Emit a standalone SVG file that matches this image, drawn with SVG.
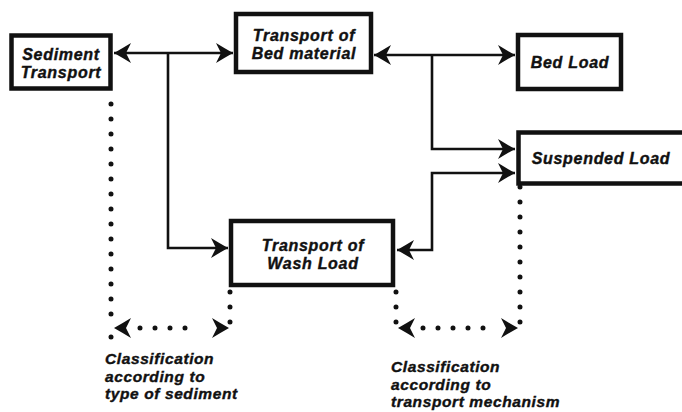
<svg xmlns="http://www.w3.org/2000/svg" width="682" height="412" viewBox="0 0 682 412">
<style>
.box{fill:#fff;stroke:#111;stroke-width:4.5}
.t{font-family:"Liberation Sans",Arial,Helvetica,sans-serif;font-weight:bold;font-style:italic;fill:#111;stroke:#111;stroke-width:0.4}
.n{font-size:16px;text-anchor:middle;letter-spacing:0.7px}
.c{font-size:15.5px;letter-spacing:0.6px}
.ln{fill:none;stroke:#111;stroke-width:2.6}
.dot{fill:none;stroke:#111;stroke-width:5;stroke-linecap:round;stroke-dasharray:0 15}
</style>
<defs>
<marker id="ah" markerUnits="userSpaceOnUse" viewBox="0 0 17 20" refX="17" refY="10" markerWidth="17" markerHeight="20" orient="auto-start-reverse">
<path d="M17,10 Q9,5.5 0,0 L5,10 L0,20 Q9,14.5 17,10 Z" fill="#111"/>
</marker>
</defs>
<g id="connectors">
<path class="ln" d="M114,53 H233" marker-start="url(#ah)" marker-end="url(#ah)"/>
<path class="ln" d="M168,53 V248 H228" marker-end="url(#ah)"/>
<path class="ln" d="M374,55 H515" marker-start="url(#ah)" marker-end="url(#ah)"/>
<path class="ln" d="M432,55 V149 H515" marker-end="url(#ah)"/>
<path class="ln" d="M397,250 H432 V173 H515" marker-start="url(#ah)" marker-end="url(#ah)"/>
<line class="dot" x1="111" y1="104" x2="111" y2="329"/>
<line class="dot" x1="111" y1="337" x2="111" y2="337"/>
<line class="dot" x1="230" y1="292" x2="230" y2="337"/>
<line class="dot" x1="140" y1="328" x2="200" y2="328"/>
<path class="ln" d="M114,328 H229" stroke-opacity="0" marker-start="url(#ah)" marker-end="url(#ah)"/>
<line class="dot" x1="396" y1="292" x2="396" y2="337"/>
<line class="dot" x1="520" y1="187" x2="520" y2="337"/>
<line class="dot" x1="423" y1="328" x2="498" y2="328"/>
<path class="ln" d="M398,328 H518" stroke-opacity="0" marker-start="url(#ah)" marker-end="url(#ah)"/>
</g>
<g id="sediment-transport">
<rect class="box" x="11.5" y="35.5" width="99" height="53"/>
<text class="t n"><tspan x="61" y="60">Sediment</tspan><tspan x="61" y="78">Transport</tspan></text>
</g>
<g id="bed-material">
<rect class="box" x="236" y="14" width="135" height="58"/>
<text class="t n"><tspan x="304" y="41">Transport of</tspan><tspan x="304" y="59">Bed material</tspan></text>
</g>
<g id="bed-load">
<rect class="box" x="518" y="35" width="103" height="54"/>
<text class="t n" x="570" y="68">Bed Load</text>
</g>
<g id="suspended-load">
<rect class="box" x="518.5" y="132.5" width="170" height="51"/>
<text class="t n" x="601" y="164">Suspended Load</text>
</g>
<g id="wash-load">
<rect class="box" x="231" y="221" width="162" height="64"/>
<text class="t n"><tspan x="313" y="251">Transport of</tspan><tspan x="313" y="269">Wash Load</tspan></text>
</g>
<g id="label-sediment">
<text class="t c"><tspan x="105" y="364">Classification</tspan><tspan x="105" y="381.5">according to</tspan><tspan x="105" y="399">type of sediment</tspan></text>
</g>
<g id="label-mechanism">
<text class="t c"><tspan x="391" y="372">Classification</tspan><tspan x="391" y="389.5">according to</tspan><tspan x="391" y="407">transport mechanism</tspan></text>
</g>
</svg>
